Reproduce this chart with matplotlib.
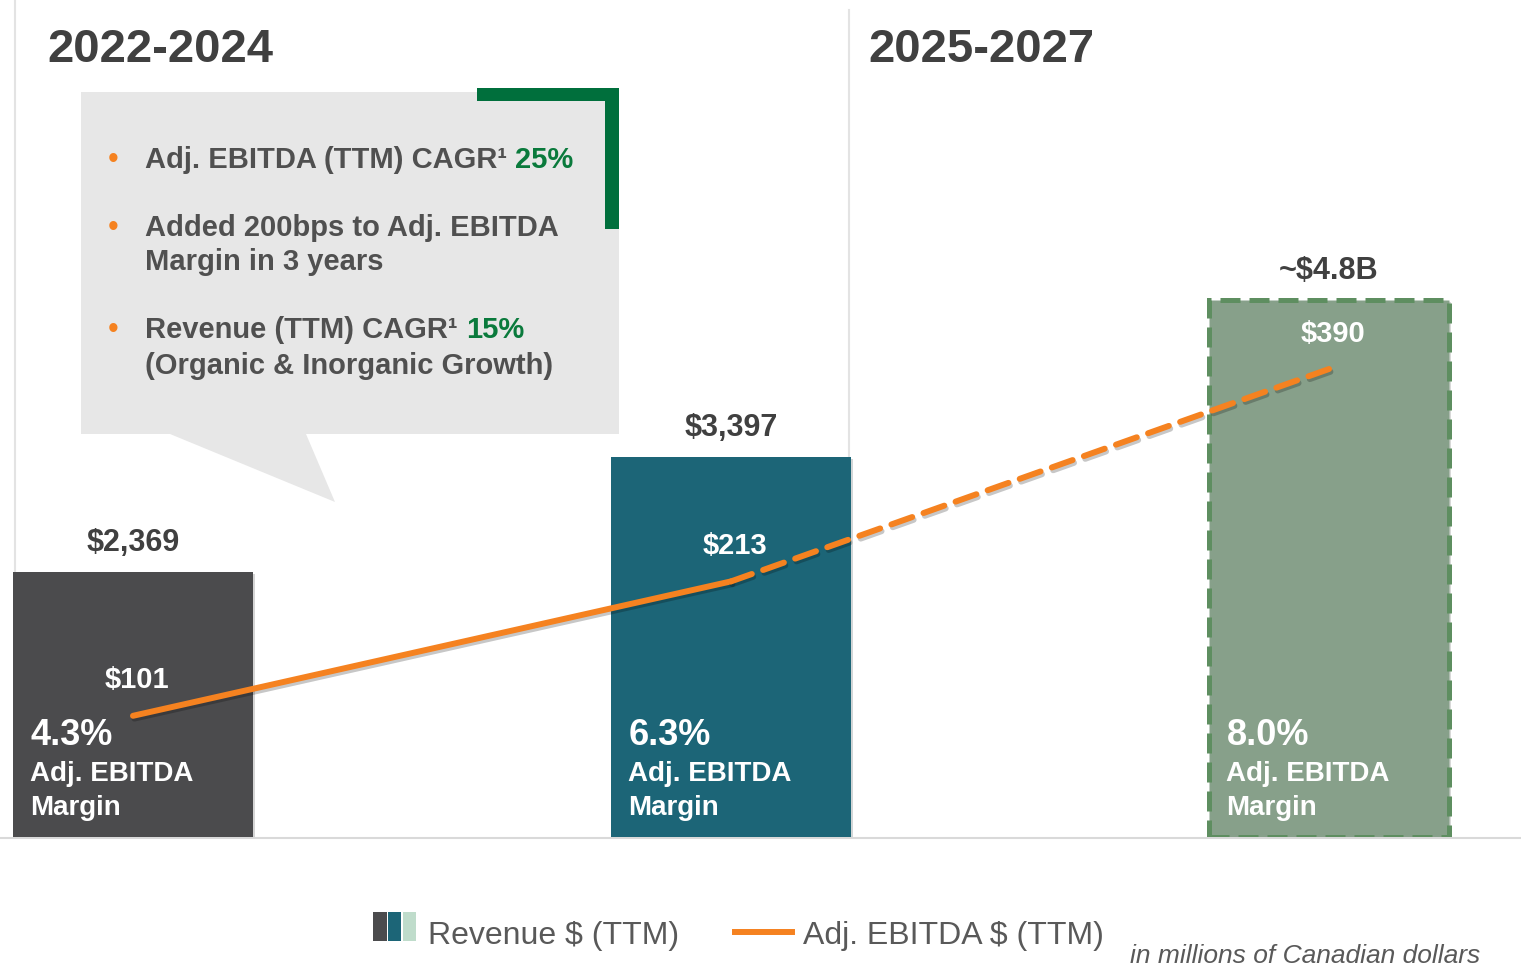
import matplotlib
matplotlib.use('Agg')
import numpy as np
import matplotlib.pyplot as plt
import matplotlib.patheffects as pe
from matplotlib.patches import Rectangle, Polygon
from matplotlib.offsetbox import TextArea, HPacker, AnnotationBbox

plt.rcParams['font.family'] = ['Liberation Sans', 'DejaVu Sans']

# Data ------------------------------------------------------------------------
periods = ['2022', '2024', '2027 target']
revenue = [2369, 3397, 4800]
revenue_labels = ['$2,369', '$3,397', '~$4.8B']
ebitda = [101, 213, 390]
ebitda_labels = ['$101', '$213', '$390']
margins = ['4.3%', '6.3%', '8.0%']
bar_colors = ['#4b4b4d', '#1c6577', '#87a08a']

DARK = '#404040'
ORANGE = '#f58220'
GREEN = '#0a7a3c'
GREY_TXT = '#505050'

# Figure ----------------------------------------------------------------------
fig = plt.figure(figsize=(15.21, 9.66), dpi=100)

# decoration layer in pixel coordinates
deco = fig.add_axes([0, 0, 1, 1])
deco.set_xlim(0, 1521)
deco.set_ylim(966, 0)
deco.axis('off')
deco.set_zorder(0)

ax = fig.add_axes([0, 129 / 966, 1, 837 / 966])
ax.set_zorder(1)
ax.patch.set_visible(False)
ax.set_xlim(-0.2224, 2.321)
ax.set_ylim(0, 7480)
ax.axis('off')

ax2 = ax.twinx()
ax2.set_zorder(2)
ax2.set_ylim(0, 697.5)
ax2.axis('off')

x = np.arange(len(periods))
width = 0.401

# separators / baseline
deco.plot([15, 15], [0, 836], color='#e3e3e3', lw=1.5)
deco.plot([849, 849], [10, 836], color='#e3e3e3', lw=1.5)
deco.plot([0, 1521], [838, 838], color='#d9d9d9', lw=1.5)

# bars
shadow = [pe.SimplePatchShadow(offset=(1.5, -1.5), alpha=0.18), pe.Normal()]
bars = ax.bar(x[:2], revenue[:2], width=width, color=bar_colors[:2], zorder=2)
for b in bars:
    b.set_path_effects(shadow)
fb = ax.bar(x[2:], revenue[2:], width=width, color=bar_colors[2],
            edgecolor='#5e8e60', linewidth=3.6, linestyle=(0, (4, 1.8)),
            zorder=2)
fb[0].set_path_effects(shadow)

for xi, v, lab in zip(x, revenue, revenue_labels):
    ax.annotate(lab, (xi, v), xytext=(0, 21), textcoords='offset points',
                ha='center', va='center', fontsize=22, fontweight='bold',
                color=DARK)

for xi, m in zip(x, margins):
    left = xi - width / 2
    ax.annotate(m, (left, 0), xytext=(12.5, 73.4), textcoords='offset points',
                ha='left', va='center', fontsize=26, fontweight='bold',
                color='white', zorder=5)
    ax.annotate('Adj. EBITDA', (left, 0), xytext=(12.5, 45.4),
                textcoords='offset points', ha='left', va='center',
                fontsize=20, fontweight='bold', color='white', zorder=5)
    ax.annotate('Margin', (left, 0), xytext=(12.5, 20.9),
                textcoords='offset points', ha='left', va='center',
                fontsize=20, fontweight='bold', color='white', zorder=5)

# EBITDA line
line_shadow = [pe.SimpleLineShadow(offset=(1, -2), alpha=0.22), pe.Normal()]
ax2.plot(x[:2], ebitda[:2], color=ORANGE, lw=4.3, solid_capstyle='round',
         path_effects=line_shadow, zorder=3)
ax2.plot(x[1:], ebitda[1:], color=ORANGE, lw=4.3, dashes=(3.7, 2.0),
         dash_capstyle='round', path_effects=line_shadow, zorder=3)

for xi, v, lab in zip(x, ebitda, ebitda_labels):
    ax2.annotate(lab, (xi, v), xytext=(3, 25.5), textcoords='offset points',
                 ha='center', va='center', fontsize=21, fontweight='bold',
                 color='white', zorder=5)

# period titles
deco.text(47, 50, '2022-2024', fontsize=34, fontweight='bold', color=DARK,
          ha='left', va='center')
deco.text(868, 50, '2025-2027', fontsize=34, fontweight='bold', color=DARK,
          ha='left', va='center')

# callout box
deco.add_patch(Polygon([(81, 92), (619, 92), (619, 434), (306, 434),
                        (335, 502), (170, 434), (81, 434)],
                       closed=True, facecolor='#e7e7e7', edgecolor='none'))
deco.add_patch(Rectangle((477, 88), 142, 13, facecolor='#006f3c', lw=0))
deco.add_patch(Rectangle((605, 88), 14, 141, facecolor='#006f3c', lw=0))

tprops = dict(fontsize=21, fontweight='bold', color=GREY_TXT)


def rich_line(parts, xy):
    children = [TextArea(s, textprops=dict(tprops, color=c)) for s, c in parts]
    box = HPacker(children=children, align='baseline', pad=0, sep=0)
    deco.add_artist(AnnotationBbox(box, xy, xycoords='data',
                                   box_alignment=(0, 0.5), frameon=False,
                                   pad=0))


for yb in (160, 228, 330):
    deco.text(113, yb, '\u2022', fontsize=22, color=ORANGE, ha='center',
              va='center')

rich_line([('Adj. EBITDA (TTM) CAGR\u00b9 ', GREY_TXT), ('25%', GREEN)],
          (145, 160))
deco.text(145, 228, 'Added 200bps to Adj. EBITDA', ha='left', va='center',
          **tprops)
deco.text(145, 262, 'Margin in 3 years', ha='left', va='center', **tprops)
rich_line([('Revenue (TTM) CAGR\u00b9 ', GREY_TXT), ('15%', GREEN)],
          (145, 330))
deco.text(145, 366, '(Organic & Inorganic Growth)', ha='left', va='center',
          **tprops)


# legend
class TriHandler:
    def legend_artist(self, legend, orig_handle, fontsize, handlebox):
        x0, y0 = handlebox.xdescent, handlebox.ydescent
        w, h = handlebox.width, handlebox.height
        rw = w * 0.23
        for k, c in enumerate(['#4b4b4d', '#1c6577', '#bfdccb']):
            r = Rectangle((x0 + w * 0.25 + k * (rw + w * 0.027), y0), rw, h,
                          facecolor=c, lw=0, transform=handlebox.get_transform())
            handlebox.add_artist(r)
        return r


rev_handle = Rectangle((0, 0), 1, 1)
line_handle, = ax2.plot([], [], color=ORANGE, lw=4.3)
fig.legend([rev_handle, line_handle], ['Revenue $ (TTM)', 'Adj. EBITDA $ (TTM)'],
           handler_map={Rectangle: TriHandler()}, loc='center',
           bbox_to_anchor=(0.481, 0.032), ncol=2, frameon=False, fontsize=23,
           handlelength=1.8, handleheight=1.0, handletextpad=0.35,
           columnspacing=1.75, labelcolor='#595959')

deco.text(1130, 956, 'in millions of Canadian dollars', fontsize=19,
          style='italic', color='#595959', ha='left', va='center')

fig.savefig('out.png', dpi=100)
